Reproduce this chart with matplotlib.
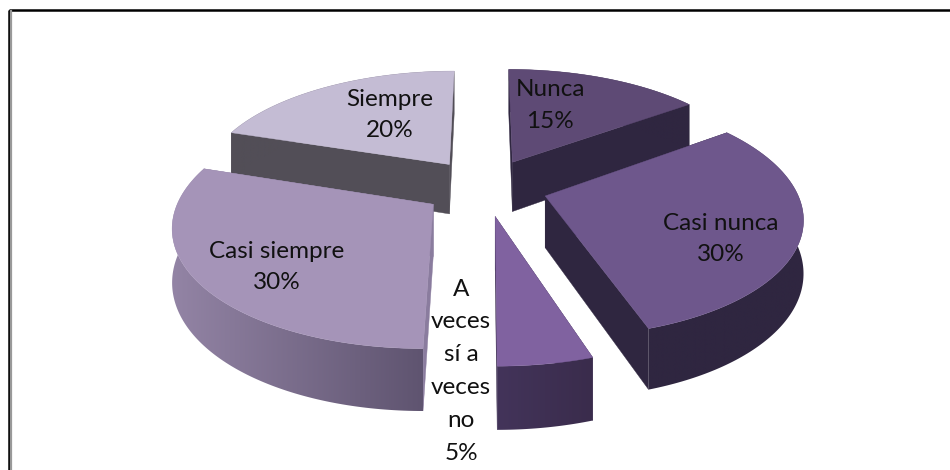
import numpy as np
import matplotlib
matplotlib.use("Agg")
import matplotlib.pyplot as plt
from matplotlib.patches import Polygon, Rectangle
from matplotlib.colors import to_rgb

categories = ["Nunca", "Casi nunca", "A veces sí a veces no", "Casi siempre", "Siempre"]
values = [15, 30, 5, 30, 20]
label_lines = [["Nunca", "15%"], ["Casi nunca", "30%"],
               ["A", "veces", "sí a", "veces", "no", "5%"],
               ["Casi siempre", "30%"], ["Siempre", "20%"]]
label_xy = [(550, 90), (721, 223), (461, 289), (277, 251), (390, 99)]
top_colors = ["#5e4a75", "#6e578c", "#8062a0", "#a594b8", "#c4bcd4"]
cut_colors = ["#2f2640", "#2f2640", "#3c2e50", "#8a7c9e", "#524e57"]
rim_left = ["#2f2640", "#2f2640", "#43345a", "#9384a5", "#524e57"]
rim_right = ["#2f2640", "#2f2640", "#3a2c4c", "#5f5470", "#524e57"]
draw_order = [4, 0, 3, 1, 2]

CX, CY, B, A, K, D, EXPLODE = 485, 187, 250, 115, 0.16, 51, 0.25


def project(u, v, h=0.0):
    s = 1.0 / (1.0 - K * v)
    return CX + B * u * s, CY + A * v * s + D * s * h


fig = plt.figure(figsize=(9.5, 4.7), dpi=100)
ax = fig.add_axes([0, 0, 1, 1])

ax.add_patch(Rectangle((8.5, 10), 1000, 600, fill=False, ec="black", lw=1.8, zorder=0))
ax.plot([11, 11], [11, 470], color="#999999", lw=1.6, zorder=0)

edges = np.cumsum([0] + values) / sum(values) * 2 * np.pi
z = 1
for i in draw_order:
    a0, a1 = edges[i], edges[i + 1]
    mid = (a0 + a1) / 2
    ou, ov = EXPLODE * np.sin(mid), -EXPLODE * np.cos(mid)
    th = np.linspace(a0, a1, 120)
    us, vs = ou + np.sin(th), ov - np.cos(th)
    # cut faces
    for uu, vv in ((us[0], vs[0]), (us[-1], vs[-1])):
        q = [project(ou, ov), project(uu, vv), project(uu, vv, 1), project(ou, ov, 1)]
        ax.add_patch(Polygon(q, closed=True, fc=cut_colors[i], ec=cut_colors[i], lw=0.3, zorder=z))
    z += 1
    # rim with a horizontal gradient, clipped to the extruded arc
    upper = [project(a, b) for a, b in zip(us, vs)]
    lower = [project(a, b, 1) for a, b in zip(us, vs)]
    rim_pts = np.array(upper + lower[::-1])
    x0, x1 = rim_pts[:, 0].min(), rim_pts[:, 0].max()
    y0, y1 = rim_pts[:, 1].min(), rim_pts[:, 1].max()
    f = np.linspace(0, 1, 256)[None, :, None]
    grad = np.array(to_rgb(rim_left[i]))[None, None, :] * (1 - f) + np.array(to_rgb(rim_right[i]))[None, None, :] * f
    im = ax.imshow(grad, extent=(x0, x1, y1, y0), aspect="auto", interpolation="bilinear", zorder=z)
    clip = Polygon(rim_pts, closed=True, transform=ax.transData, fc="none", ec="none")
    ax.add_patch(clip)
    im.set_clip_path(clip)
    z += 1
    # top
    pts = [project(ou, ov)] + upper
    ax.add_patch(Polygon(pts, closed=True, fc=top_colors[i], ec=top_colors[i], lw=0.3, zorder=z))
    z += 1

ax.set_xlim(0, 950)
ax.set_ylim(470, 0)
ax.set_aspect("auto")
ax.axis("off")

for lines, (x, y) in zip(label_lines, label_xy):
    for n, t in enumerate(lines):
        ax.text(x, y + n * (32.8 if len(lines) > 2 else 31.5), t, ha="center", va="center",
                fontsize=17.5, family="Lato", color="#111111", zorder=100)

fig.savefig("out.png", dpi=100)
